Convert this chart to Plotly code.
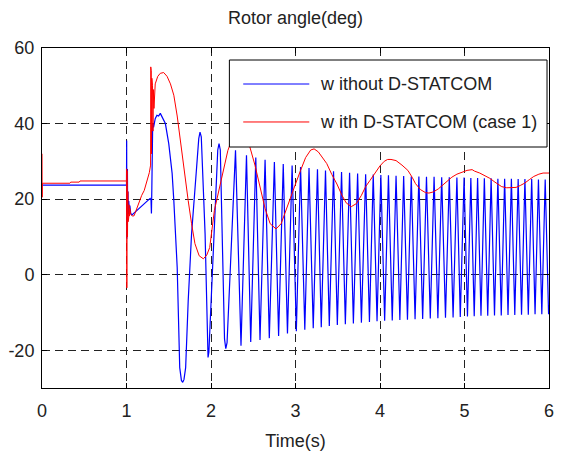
import plotly.graph_objects as go

# Rotor angle response (deg) vs time (s)

# Without D-STATCOM: pre-fault level, fault transient, then sustained swings
blue_t = [0.000, 1.000, 1.002, 1.004, 1.006, 1.008, 1.011, 1.014, 1.018, 1.022,
          1.027, 1.032, 1.040, 1.050, 1.065, 1.280, 1.290, 1.295, 1.300, 1.305,
          1.310, 1.320, 1.340, 1.360, 1.380, 1.400, 1.420, 1.440, 1.460, 1.500,
          1.540, 1.560, 1.600, 1.615, 1.630, 1.650, 1.665, 1.680, 1.700, 1.730,
          1.770, 1.830, 1.855, 1.870, 1.885, 1.930, 1.955, 1.965, 1.975, 2.030,
          2.080, 2.095, 2.110, 2.160, 2.175, 2.190,
          2.29, 2.355, 2.42, 2.47, 2.53, 2.58, 2.64, 2.69, 2.75, 2.80,
          2.855, 2.905, 2.96, 3.01, 3.06, 3.11, 3.16, 3.21, 3.26, 3.305,
          3.355, 3.40, 3.45, 3.495, 3.545, 3.59, 3.64, 3.685, 3.735, 3.78,
          3.83, 3.875, 3.92, 3.965, 4.01, 4.055, 4.10, 4.145, 4.19, 4.235,
          4.28, 4.325, 4.37, 4.415, 4.46, 4.505, 4.55, 4.595, 4.64, 4.685,
          4.73, 4.775, 4.82, 4.865, 4.91, 4.95, 4.995, 5.035, 5.075, 5.115,
          5.155, 5.195, 5.235, 5.275, 5.315, 5.355, 5.395, 5.435, 5.475, 5.515,
          5.555, 5.595, 5.635, 5.675, 5.715, 5.755, 5.795, 5.835, 5.875, 5.915,
          5.955, 5.995, 6.000]
blue_y = [23.7, 23.7, 35.5, 9.5, 33.0, 12.0, 28.0, 14.0, 22.0, 16.0,
          19.5, 17.5, 18.3, 16.2, 15.8, 20.2, 19.8, 16.2, 23.0, 38.0,
          40.0, 39.0, 41.3, 42.2, 42.0, 42.7, 41.7, 41.0, 40.0, 34.7,
          26.8, 19.6, 1.9, -11.4, -24.6, -28.0, -28.5, -27.8, -24.6, -7.0,
          10.8, 28.5, 36.0, 37.7, 36.5, 10.8, -19.0, -21.9, -20.5, 10.0,
          33.0, 34.7, 33.0, -17.0, -19.6, -18.0,
          32.9, -18.8, 31.6, -17.8, 31.0, -17.3, 30.4, -16.8, 29.8, -16.2,
          29.3, -15.6, 28.9, -15.0, 28.5, -14.6, 28.2, -14.2, 27.9, -13.9,
          27.6, -13.6, 27.4, -13.3, 27.2, -13.1, 27.0, -12.9, 26.8, -12.7,
          26.6, -12.5, 26.5, -12.3, 26.4, -12.2, 26.3, -12.1, 26.2, -12.0,
          26.1, -11.9, 26.0, -11.8, 26.0, -11.7, 25.9, -11.6, 25.9, -11.5,
          25.8, -11.4, 25.8, -11.3, 25.7, -11.2, 25.7, -11.1, 25.6, -11.0,
          25.6, -10.9, 25.5, -10.9, 25.5, -10.8, 25.4, -10.8, 25.4, -10.7,
          25.4, -10.7, 25.3, -10.6, 25.3, -10.6, 25.3, -10.5, 25.2, -10.5,
          25.2, -10.5, -8.0]

# With D-STATCOM (case 1): damped swing settling near 25 deg
red_t = [0.000, 0.002, 0.004, 0.330, 0.340, 0.440, 0.450, 1.000, 1.002, 1.004,
         1.006, 1.008, 1.010, 1.012, 1.015, 1.018, 1.022, 1.026, 1.030, 1.035,
         1.040, 1.050, 1.070, 1.090, 1.120, 1.150, 1.180, 1.210, 1.240, 1.270,
         1.285, 1.287, 1.290, 1.293, 1.296, 1.300, 1.304, 1.308, 1.313, 1.318,
         1.325, 1.332, 1.340, 1.370, 1.400, 1.440, 1.480, 1.520, 1.560, 1.600,
         1.650, 1.690, 1.730, 1.770, 1.810, 1.860, 1.910, 1.950, 1.985, 2.040,
         2.080, 2.120, 2.160, 2.200, 2.260, 2.330, 2.400, 2.460, 2.520, 2.580,
         2.640, 2.700, 2.770, 2.830, 2.900, 2.960, 3.000, 3.060, 3.120, 3.180,
         3.220, 3.270, 3.320, 3.370, 3.430, 3.490, 3.550, 3.600, 3.660, 3.720,
         3.780, 3.830, 3.880, 3.940, 4.000, 4.050, 4.090, 4.130, 4.190, 4.260,
         4.330, 4.380, 4.420, 4.480, 4.540, 4.580, 4.630, 4.690, 4.740, 4.800,
         4.850, 4.910, 4.970, 5.030, 5.090, 5.120, 5.180, 5.240, 5.300, 5.360,
         5.440, 5.500, 5.560, 5.610, 5.660, 5.710, 5.770, 5.820, 5.880, 5.930, 6.000]
red_y = [32.0, 20.5, 24.2, 24.2, 24.5, 24.5, 24.8, 24.8, 28.0, -3.5,
         27.5, 5.0, 26.0, 10.0, 22.0, 14.0, 20.0, 15.0, 18.5, 15.5,
         17.5, 16.0, 15.5, 15.6, 17.5, 19.5, 21.0, 22.3, 24.5, 27.0,
         29.0, 55.0, 30.0, 54.0, 32.0, 52.0, 35.0, 50.0, 38.0, 49.0,
         44.0, 49.0, 50.5, 52.5, 53.3, 53.5, 52.5, 50.5, 47.5, 42.0,
         33.0, 26.0, 19.6, 13.5, 8.2, 5.0, 4.2, 5.2, 7.2, 17.0,
         21.0, 24.1, 28.5, 32.9, 36.5, 37.5, 36.5, 33.8, 29.0, 23.0,
         17.5, 13.5, 12.1, 13.5, 18.0, 22.0, 24.0, 27.6, 31.0, 33.0,
         33.3, 32.5, 30.8, 29.4, 26.5, 24.0, 21.0, 19.0, 18.0, 18.8,
         21.0, 23.3, 24.9, 27.0, 28.8, 30.0, 30.5, 30.5, 30.2, 29.0,
         27.6, 25.8, 24.1, 22.5, 21.7, 21.6, 21.9, 22.7, 23.6, 24.8,
         25.8, 26.6, 27.1, 27.6, 27.8, 27.4, 26.9, 26.3, 25.5, 24.5,
         23.3, 23.0, 23.0, 23.1, 23.6, 24.2, 25.2, 26.0, 26.6, 26.9, 26.9]

series_names = ["w ithout D-STATCOM", "w ith D-STATCOM (case 1)"]
series_colors = ["#0000ff", "#ff0000"]
x_ticks = [0, 1, 2, 3, 4, 5, 6]
y_ticks = [-20, 0, 20, 40, 60]

FONT = "Liberation Sans, Arial, sans-serif"

fig = go.Figure()
fig.add_trace(go.Scatter(x=blue_t, y=blue_y, mode="lines", name=series_names[0],
                         line=dict(color=series_colors[0], width=1.2), showlegend=False))
fig.add_trace(go.Scatter(x=red_t, y=red_y, mode="lines", name=series_names[1],
                         line=dict(color=series_colors[1], width=1), showlegend=False))

axis_common = dict(
    ticks="inside", ticklen=5, tickcolor="black", tickwidth=1,
    showline=True, linecolor="black", linewidth=1, mirror="ticks",
    showgrid=True, gridcolor="#222", gridwidth=1, griddash="8px,5px",
    zeroline=False, tickfont=dict(family=FONT, size=18, color="#222"),
)
fig.update_xaxes(range=[0, 6], tickvals=x_ticks, ticktext=[str(v) for v in x_ticks],
                 title=dict(text="Time(s)", font=dict(family=FONT, size=18, color="#222"),
                            standoff=14),
                 ticklabelstandoff=6, **axis_common)
fig.update_yaxes(range=[-30, 60], tickvals=y_ticks, ticktext=[str(v) for v in y_ticks],
                 ticklabelstandoff=3, **axis_common)

# Legend box drawn in plot-area coordinates
lx0, lx1, ly0, ly1 = 0.3696, 0.9961, 0.7088, 0.9647
legend_rows = [0.8941, 0.7824]
fig.add_shape(type="rect", xref="paper", yref="paper", x0=lx0, x1=lx1, y0=ly0, y1=ly1,
              fillcolor="white", line=dict(color="black", width=1), layer="above")
for name, color, yy in zip(series_names, series_colors, legend_rows):
    fig.add_shape(type="line", xref="paper", yref="paper", x0=0.3969, x1=0.5272,
                  y0=yy, y1=yy, line=dict(color=color, width=1), layer="above")
    fig.add_annotation(xref="paper", yref="paper", x=0.5447, y=yy, text=name,
                       showarrow=False, xanchor="left", yanchor="middle",
                       font=dict(family=FONT, size=18, color="#222"))

fig.update_layout(
    width=562, height=462,
    margin=dict(l=40, r=8, t=48, b=74),
    paper_bgcolor="white", plot_bgcolor="white",
    title=dict(text="Rotor angle(deg)", x=0.5, xref="paper", xanchor="center",
               y=1 - 18 / 462, yref="container", yanchor="middle",
               font=dict(family=FONT, size=18, color="#222")),
    showlegend=False,
)

fig.write_html("out.html")
